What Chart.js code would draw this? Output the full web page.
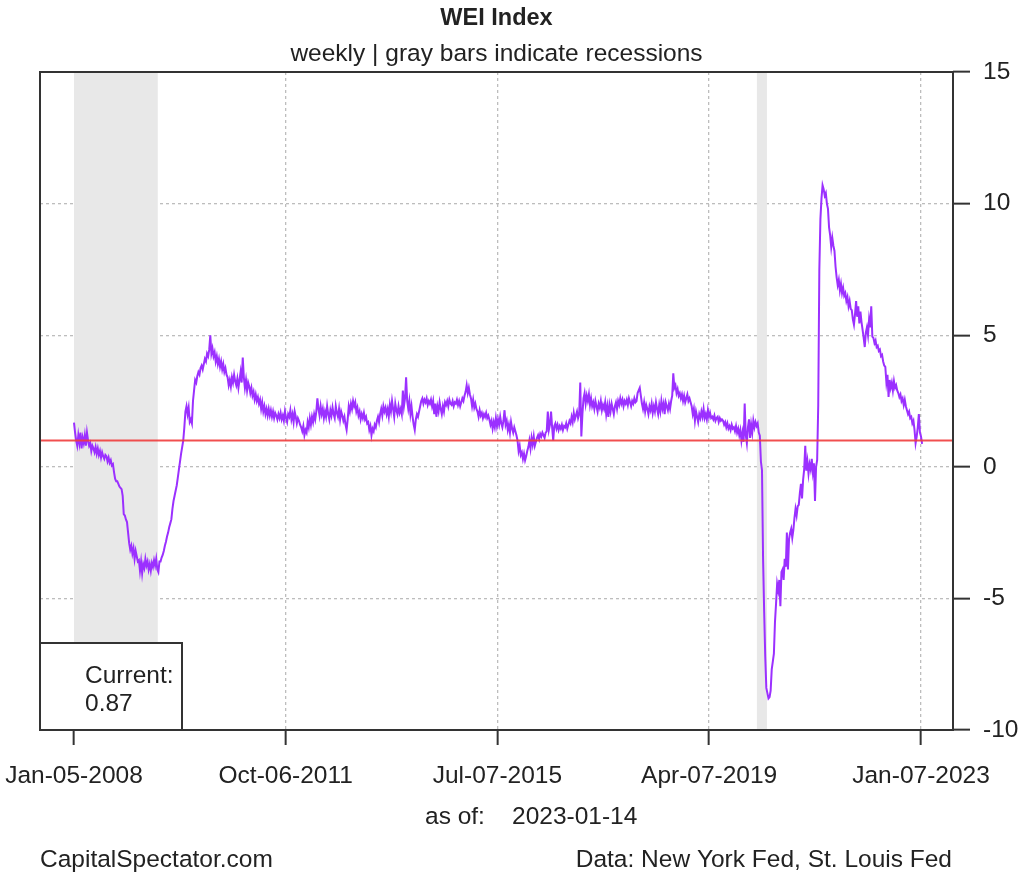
<!DOCTYPE html>
<html>
<head>
<meta charset="utf-8">
<script src="https://cdn.jsdelivr.net/npm/chart.js@4.4.0/dist/chart.umd.min.js"></script>
<style>
  html, body { margin: 0; padding: 0; background: #fff; }
  #wrap { width: 1030px; height: 881px; }
</style>
</head>
<body>
<div id="wrap"><canvas id="chartWEI" width="1030" height="881"></canvas></div>
<script>
// weekly WEI readings, first week ending 2008-01-05, one value per week
const startDate = "2008-01-05";
const weiValues = [
  1.68, 1.3, 1.0, 0.8, 1.2, 0.9, 1.3, 0.7, 1.1, 0.9,
  1.2, 0.8, 1.3, 1.0, 0.8, 0.9, 0.6, 0.8, 0.7, 0.55,
  0.75, 0.5, 0.7, 0.45, 0.6, 0.35, 0.55, 0.4, 0.3, 0.45,
  0.4, 0.2, 0.35, 0.15, 0.25, 0.05, 0.1, -0.2, -0.45, -0.55,
  -0.55, -0.65, -0.75, -0.8, -0.85, -1.1, -1.8, -1.85, -2.0, -2.1,
  -2.5, -2.9, -3.15, -3.0, -3.3, -3.1, -3.5, -3.2, -3.4, -3.6,
  -3.55, -3.95, -3.6, -4.05, -3.7, -3.85, -3.5, -3.75, -3.6, -3.9,
  -3.7, -3.95, -3.65, -3.8, -3.55, -3.75, -3.5, -3.9, -4.0, -3.6,
  -3.6, -3.45, -3.35, -3.2, -3.0, -2.85, -2.65, -2.5, -2.3, -2.15,
  -2.0, -1.6, -1.3, -1.1, -0.9, -0.7, -0.4, -0.1, 0.2, 0.5,
  0.75, 1.0, 1.5, 2.1, 2.3, 2.0, 2.25, 1.7, 1.8, 1.65,
  2.5, 2.9, 3.3, 3.2, 3.45, 3.6, 3.5, 3.75, 3.85, 3.7,
  3.9, 4.1, 4.0, 4.3, 4.2, 4.45, 5.0, 4.3, 4.5, 4.2,
  4.35, 4.0, 4.2, 3.9, 4.1, 3.8, 4.0, 3.7, 3.9, 3.6,
  3.75, 3.5, 3.4, 3.1, 3.3, 3.05, 3.4, 3.2, 3.5, 3.25,
  3.1, 3.35, 3.0, 3.3, 3.6, 3.2, 4.15, 3.4, 3.0, 3.3,
  2.9, 3.2, 3.05, 2.8, 3.0, 2.7, 2.85, 2.55, 2.75, 2.5,
  2.65, 2.4, 2.55, 2.2, 2.45, 2.1, 2.3, 2.0, 2.2, 1.95,
  2.2, 1.95, 2.15, 1.9, 2.1, 1.85, 2.05, 1.95, 1.8, 2.0,
  1.85, 2.05, 1.8, 1.95, 1.75, 2.1, 1.85, 1.7, 2.0, 1.9,
  2.15, 1.8, 2.0, 1.7, 2.1, 1.9, 1.65, 1.85, 1.75, 1.6,
  1.5, 1.35, 1.55, 1.2, 1.4, 1.3, 1.7, 1.5, 1.85, 1.6,
  1.9, 1.7, 2.0, 1.8, 2.1, 2.6, 2.2, 1.95, 2.3, 2.0,
  2.2, 1.85, 2.1, 1.9, 2.3, 2.0, 1.8, 2.15, 1.95, 2.25,
  2.0, 1.85, 2.3, 2.05, 1.9, 2.2, 1.8, 2.1, 1.95, 1.75,
  1.9, 1.6, 1.4, 1.8, 2.3, 2.1, 2.4, 2.2, 2.5, 2.3,
  2.45, 2.1, 2.25, 1.95, 2.1, 1.8, 2.0, 1.85, 2.05, 1.8,
  1.9, 1.65, 1.7, 1.4, 1.55, 1.2, 1.45, 1.35, 1.6, 1.5,
  1.75, 1.9, 1.7, 2.0, 2.2, 1.95, 2.3, 2.1, 2.25, 2.0,
  2.2, 1.9, 2.35, 2.1, 2.5, 2.2, 1.9, 2.4, 2.15, 2.0,
  2.3, 2.05, 2.2, 2.0, 2.9, 2.3, 2.6, 3.4, 2.5, 2.2,
  2.5, 2.0, 2.3, 1.9, 1.6, 1.4, 1.8, 2.0, 1.9, 2.1,
  2.3, 2.5, 2.6, 2.4, 2.55, 2.45, 2.6, 2.35, 2.5, 2.4,
  2.55, 2.3, 2.5, 2.0, 2.4, 1.9, 2.3, 2.1, 2.45, 2.2,
  2.0, 2.3, 2.1, 2.45, 2.35, 2.5, 2.3, 2.55, 2.4, 2.35,
  2.5, 2.3, 2.45, 2.4, 2.55, 2.35, 2.5, 2.3, 2.45, 2.6,
  2.5, 2.7, 2.85, 3.1, 2.8, 3.0, 2.75, 2.6, 2.3, 2.55,
  2.25, 2.4, 2.2, 2.1, 1.9, 2.15, 1.95, 2.05, 1.85, 2.0,
  1.9, 2.05, 1.85, 1.95, 1.8, 1.6, 1.75, 1.45, 1.7, 1.5,
  1.85, 1.55, 1.8, 1.6, 1.9, 1.65, 1.5, 1.75, 2.15, 1.6,
  1.75, 1.4, 1.6, 1.3, 1.7, 1.45, 1.3, 1.5, 1.35, 1.2,
  1.0, 0.6, 0.8, 0.45, 0.55, 0.3, 0.5, 0.25, 0.4, 0.6,
  0.75, 1.0, 0.7, 1.1, 0.85, 1.15, 0.8, 0.95, 1.1, 1.2,
  1.05, 1.25, 1.15, 1.3, 1.2, 1.1, 1.3, 1.35, 2.1, 1.4,
  1.6, 2.1, 1.5, 1.0, 1.55, 1.65, 1.45, 1.6, 1.4, 1.55,
  1.45, 1.6, 1.4, 1.55, 1.5, 1.65, 1.45, 1.6, 1.75, 1.65,
  1.9, 1.7, 2.05, 1.8, 1.95, 2.1, 1.85, 2.0, 3.2, 1.15,
  2.0, 2.6, 2.8, 2.4, 2.7, 2.5, 2.75, 2.35, 2.6, 2.3,
  2.45, 2.2, 2.5, 2.3, 2.1, 2.4, 2.25, 2.5, 2.15, 2.35,
  2.2, 2.45, 2.0, 2.3, 1.9, 2.35, 2.1, 2.4, 2.2, 2.0,
  2.3, 2.45, 2.2, 2.5, 2.35, 2.6, 2.4, 2.55, 2.3, 2.5,
  2.4, 2.55, 2.35, 2.6, 2.45, 2.3, 2.5, 2.4, 2.6, 2.45,
  2.5, 2.8, 2.9, 3.0, 2.7, 2.4, 2.2, 2.45, 2.1, 2.35,
  2.2, 2.0, 2.3, 2.15, 2.4, 2.05, 2.3, 2.1, 2.45, 2.2,
  2.0, 2.35, 2.1, 2.5, 2.2, 2.4, 2.0, 2.45, 2.3, 2.15,
  2.4, 2.2, 2.5, 2.7, 3.55, 3.0, 3.1, 2.8, 2.95, 2.7,
  2.8, 2.6, 2.75, 2.5, 2.7, 2.45, 2.6, 2.75, 2.5, 2.6,
  2.45, 2.3, 2.0, 2.2, 1.75, 2.1, 1.9, 1.7, 2.0, 1.85,
  2.1, 1.9, 2.2, 1.85, 2.0, 1.8, 2.15, 1.9, 2.05, 1.85,
  1.9, 1.8, 1.95, 1.75, 1.85, 1.9, 1.7, 1.85, 1.75, 1.8,
  1.75, 1.6, 1.7, 1.5, 1.65, 1.45, 1.55, 1.4, 1.6, 1.45,
  1.5, 1.35, 1.55, 1.3, 1.45, 1.2, 1.4, 1.0, 1.3, 0.95,
  2.4, 1.2, 0.9, 1.5, 1.8, 1.1, 1.6, 1.3, 1.75, 1.5,
  1.7, 1.55, 1.65, 1.3, 1.18, 0.2, -0.13, -3.5, -5.5, -7.2,
  -8.4, -8.6, -8.8, -8.75, -8.5, -7.7, -7.4, -7.1, -5.9, -5.2,
  -4.45, -4.7, -4.3, -5.3, -4.0, -3.9, -4.3, -3.5, -3.8, -2.5,
  -3.9, -2.75, -2.5, -2.35, -2.7, -2.4, -1.95, -1.6, -1.85, -1.5,
  -1.45, -1.0, -0.65, -1.2, -0.5, -0.1, 0.8, -0.15, 0.2, -0.26,
  0.1, -0.1, 0.3, -0.2, 0.13, -1.3, 0.0, 0.26, 2.36, 7.46,
  9.4, 10.2, 10.7, 10.55, 10.3, 10.4, 10.0, 9.8, 9.1, 8.8,
  8.35, 8.7, 8.4, 8.2, 7.6, 7.2, 6.9, 7.1, 6.7, 6.95,
  6.6, 6.8, 6.5, 6.6, 6.3, 6.45, 6.1, 6.3, 6.0, 5.95,
  5.6, 5.4, 5.8, 6.3, 5.7, 6.1, 5.45, 5.9, 5.5, 5.2,
  4.9, 4.55, 5.1, 5.3, 5.0, 5.6, 5.3, 6.1, 4.95, 4.9,
  4.7, 4.8, 4.55, 4.6, 4.4, 4.45, 4.2, 4.25, 4.0, 3.85,
  3.8, 3.2, 3.5, 2.65, 3.3, 3.0, 3.2, 2.9, 3.25, 3.0,
  3.1, 2.9, 2.8, 2.65, 2.75, 2.5, 2.6, 2.35, 2.55, 2.3,
  2.15, 2.0, 2.1, 1.85, 1.9, 1.65, 1.75, 1.4, 0.9, 1.15,
  1.5, 2.0, 1.3, 1.15, 0.87
];

const tickDates = ["2008-01-05", "2011-10-06", "2015-07-07", "2019-04-07", "2023-01-07"];
const tickLabels = ["Jan-05-2008", "Oct-06-2011", "Jul-07-2015", "Apr-07-2019", "Jan-07-2023"];
const yTicks = [-10, -5, 0, 5, 10, 15];
const recessions = [["2007-12-01", "2009-06-30"], ["2020-02-10", "2020-04-15"]];
const refLevel = 1;
const currentValue = "0.87";
const asOfDate = "2023-01-14";

const FONT = "'Liberation Sans', Arial, sans-serif";
const GRID = '#bdbdbd';

function dayNum(d) {
    return (Date.parse(d + "T00:00:00Z") - Date.parse(startDate + "T00:00:00Z")) / 86400000;
}

const points = weiValues.map((v, i) => ({ x: i * 7, y: v }));
const lastDay = (weiValues.length - 1) * 7;
const tickDays = tickDates.map(dayNum);

const decorations = {
    id: 'decorations',
    beforeDatasetsDraw(chart) {
        const { ctx, chartArea: a, scales: { x } } = chart;
        ctx.save();
        ctx.fillStyle = '#e8e8e8';
        for (const [s, e] of recessions) {
            const x0 = x.getPixelForValue(Math.max(dayNum(s), 0));
            const x1 = x.getPixelForValue(Math.min(dayNum(e), lastDay));
            ctx.fillRect(x0, a.top, x1 - x0, a.bottom - a.top);
        }
        ctx.restore();
    },
    afterDatasetsDraw(chart) {
        const { ctx, chartArea: a, scales: { y } } = chart;
        const py = y.getPixelForValue(refLevel);
        ctx.save();
        ctx.strokeStyle = 'rgba(240,60,60,0.9)';
        ctx.lineWidth = 2;
        ctx.beginPath();
        ctx.moveTo(a.left, py);
        ctx.lineTo(a.right, py);
        ctx.stroke();
        ctx.restore();
    },
    afterDraw(chart) {
        const { ctx, chartArea: a } = chart;
        const cx = (a.left + a.right) / 2;
        ctx.save();
        // plot frame
        ctx.strokeStyle = '#333';
        ctx.lineWidth = 2;
        ctx.strokeRect(a.left, a.top, a.right - a.left, a.bottom - a.top);

        // current value box
        ctx.fillStyle = '#fff';
        ctx.fillRect(a.left, 643, 142, a.bottom - 643);
        ctx.strokeRect(a.left, 643, 142, a.bottom - 643);

        ctx.fillStyle = '#222';
        ctx.textBaseline = 'middle';
        ctx.font = `24.5px ${FONT}`;
        ctx.textAlign = 'left';
        ctx.fillText('Current:', 85, 676);
        ctx.fillText(currentValue, 85, 704);

        // titles
        ctx.textAlign = 'center';
        ctx.font = `bold 23.5px ${FONT}`;
        ctx.fillText('WEI Index', cx, 19);
        ctx.font = `24.5px ${FONT}`;
        ctx.fillText('weekly | gray bars indicate recessions', cx, 54);

        // footer
        ctx.textAlign = 'left';
        ctx.fillText('as of:', 425, 817);
        ctx.fillText(asOfDate, 512, 817);
        ctx.fillText('CapitalSpectator.com', 40, 860);
        ctx.textAlign = 'right';
        ctx.fillText('Data: New York Fed, St. Louis Fed', 952, 860);
        ctx.restore();
    }
};

const ctx = document.getElementById('chartWEI');
new Chart(ctx, {
    type: 'line',
    data: {
        datasets: [{
            label: 'WEI',
            data: points,
            borderColor: '#9B30FF',
            borderWidth: 2,
            pointRadius: 0,
            tension: 0,
            fill: false
        }]
    },
    options: {
        responsive: false,
        animation: false,
        events: [],
        layout: { padding: { left: 40, top: 72, right: 0, bottom: 0 } },
        plugins: {
            legend: { display: false },
            tooltip: { enabled: false }
        },
        scales: {
            x: {
                type: 'linear',
                min: -220,
                max: 5688,
                afterBuildTicks: s => { s.ticks = tickDays.map(v => ({ value: v })); },
                afterFit: s => {
                    s.height = 151;
                    s.paddingLeft = 0;
                    s.paddingRight = 0;
                },
                ticks: {
                    autoSkip: false,
                    maxRotation: 0,
                    padding: 17,
                    color: '#222',
                    font: { family: FONT, size: 24.5 },
                    callback: (v, i) => tickLabels[i]
                },
                grid: {
                    // no dotted line on the first tick, it sits under the recession shading
                    color: c => (c.index === 0 ? 'rgba(0,0,0,0)' : GRID),
                    lineWidth: 1.3,
                    tickLength: 15,
                    tickColor: '#333',
                    tickWidth: 2
                },
                border: { display: false, dash: [3, 3] }
            },
            y: {
                position: 'right',
                min: -10,
                max: 15,
                afterBuildTicks: s => { s.ticks = yTicks.map(v => ({ value: v })); },
                afterFit: s => {
                    s.width = 77;
                    s.paddingTop = 0;
                    s.paddingBottom = 0;
                },
                ticks: {
                    padding: 13,
                    color: '#222',
                    font: { family: FONT, size: 24.5 },
                    callback: v => String(v)
                },
                grid: { color: GRID, lineWidth: 1.3, tickLength: 17, tickColor: '#333', tickWidth: 2 },
                border: { display: false, dash: [3, 3] }
            }
        }
    },
    plugins: [decorations]
});
</script>
</body>
</html>
